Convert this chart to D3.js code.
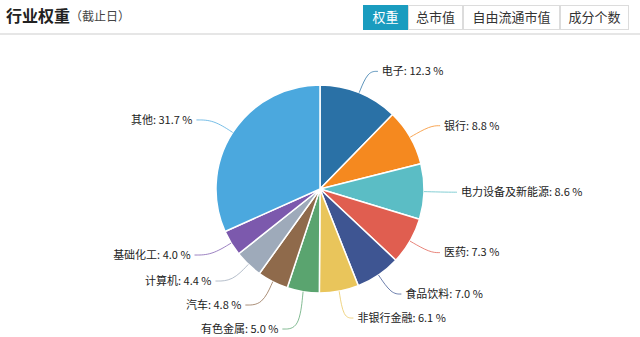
<!DOCTYPE html>
<html>
<head>
<meta charset="utf-8">
<script src="https://cdn.jsdelivr.net/npm/d3@7"></script>
<style>
  html, body { margin: 0; padding: 0; background: #fff; }
  #chart { width: 640px; height: 337px; }
  text { font-family: "Noto Sans CJK SC", "Noto Sans", sans-serif; }
</style>
</head>
<body>
<div id="chart"></div>
<script>
// data
const sectors = ['电子', '银行', '电力设备及新能源', '医药', '食品饮料', '非银行金融',
                 '有色金属', '汽车', '计算机', '基础化工', '其他'];
const weights = [12.3, 8.8, 8.6, 7.3, 7.0, 6.1, 5.0, 4.8, 4.4, 4.0, 31.7];
const colors  = ['#2a71a6', '#f5891f', '#5bbdc5', '#e05e50', '#3e5592', '#e9c55b',
                 '#5aa46f', '#8f6a4b', '#9eaaba', '#7c59ad', '#4ba8de'];
const tabs    = ['权重', '总市值', '自由流通市值', '成分个数'];

const W = 640, H = 337;
const svg = d3.select('#chart').append('svg')
  .attr('width', W).attr('height', H);

// header
svg.append('text')
  .attr('x', 6).attr('y', 22)
  .attr('font-size', '16px').attr('font-weight', '700').attr('fill', '#222')
  .text('行业权重');
svg.append('text')
  .attr('x', 70).attr('y', 21)
  .attr('font-size', '12px').attr('fill', '#444')
  .text('（截止日）');

svg.append('rect')
  .attr('x', 0).attr('y', 33).attr('width', W).attr('height', 2)
  .attr('fill', '#e6e6e6');

// tab buttons
const tabW = [45, 55, 97, 69];
let tx = 363;
tabs.forEach((t, i) => {
  const g = svg.append('g').attr('transform', `translate(${tx},5)`);
  g.append('rect')
    .attr('x', 0.5).attr('y', 0.5)
    .attr('width', tabW[i] - 1).attr('height', 24)
    .attr('fill', i === 0 ? '#1a9cbf' : '#fff')
    .attr('stroke', i === 0 ? '#1a9cbf' : '#dcdcdc');
  g.append('text')
    .attr('x', tabW[i] / 2).attr('y', 17)
    .attr('text-anchor', 'middle')
    .attr('font-size', '13px')
    .attr('fill', i === 0 ? '#fff' : '#333')
    .text(t);
  tx += tabW[i];
});

// pie
const cx = 320, cy = 189, r = 104;
const data = sectors.map((s, i) => ({ name: s, value: weights[i], color: colors[i] }));

const pie = d3.pie().value(d => d.value).sort(null);
const arc = d3.arc().innerRadius(0).outerRadius(r);
const arcs = pie(data);

const chart = svg.append('g').attr('transform', `translate(${cx},${cy})`);

chart.selectAll('path.slice')
  .data(arcs)
  .enter().append('path')
    .attr('class', 'slice')
    .attr('d', arc)
    .attr('fill', d => d.data.color)
    .attr('stroke', '#fff')
    .attr('stroke-width', 1.5);

// label layout: point on edge, elbow outside, then short horizontal run
const len1 = 23, minGap = 24;
const len2 = side => side > 0 ? 10 : 17;
const labels = arcs.map(d => {
  const a = (d.startAngle + d.endAngle) / 2;
  const side = Math.sin(a) >= 0 ? 1 : -1;
  return {
    d, a, side,
    p0: [r * Math.sin(a), -r * Math.cos(a)],
    p1: [(r + len1) * Math.sin(a), -(r + len1) * Math.cos(a)]
  };
});

// push overlapping labels downward on each side
[1, -1].forEach(side => {
  const group = labels.filter(l => l.side === side).sort((a, b) => a.p1[1] - b.p1[1]);
  for (let i = 1; i < group.length; i++) {
    if (group[i].p1[1] - group[i - 1].p1[1] < minGap) {
      group[i].p1[1] = group[i - 1].p1[1] + minGap;
    }
  }
});

const line = d3.line().curve(d3.curveBasis);

chart.selectAll('path.leader')
  .data(labels)
  .enter().append('path')
    .attr('class', 'leader')
    .attr('d', l => {
      const p2 = [l.p1[0] + l.side * len2(l.side), l.p1[1]];
      return line([l.p0, l.p1, p2]);
    })
    .attr('fill', 'none')
    .attr('stroke', l => l.d.data.color)
    .attr('stroke-opacity', 0.75)
    .attr('stroke-width', 1);

chart.selectAll('text.label')
  .data(labels)
  .enter().append('text')
    .attr('class', 'label')
    .attr('x', l => l.p1[0] + l.side * (len2(l.side) + 4))
    .attr('y', l => l.p1[1])
    .attr('dy', '0.35em')
    .attr('text-anchor', l => l.side > 0 ? 'start' : 'end')
    .attr('font-size', '11px')
    .attr('fill', '#222')
    .text(l => `${l.d.data.name}: ${d3.format('.1f')(l.d.data.value)} %`);
</script>
</body>
</html>
